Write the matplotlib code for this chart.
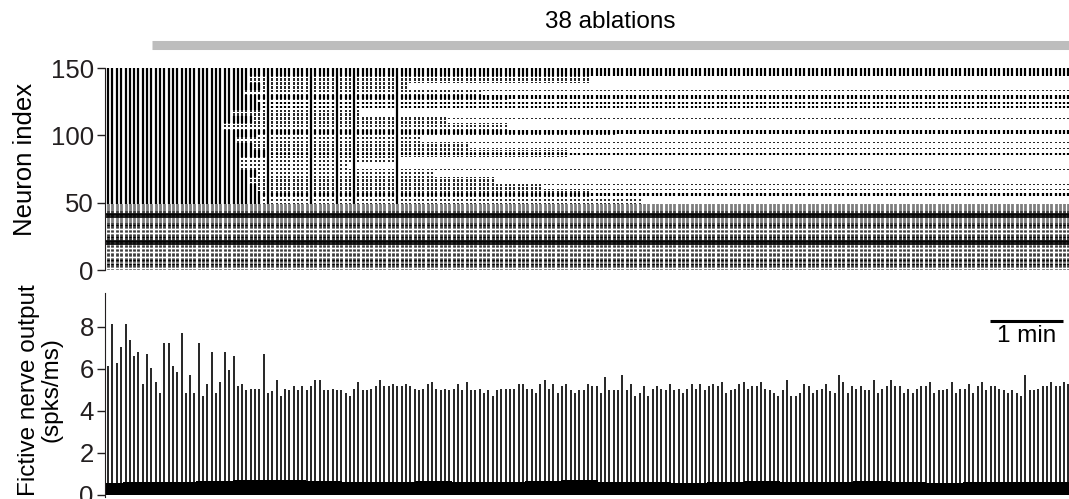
import numpy as np
import matplotlib.pyplot as plt
from matplotlib.collections import LineCollection

plt.rcParams['font.family'] = ['Liberation Sans', 'DejaVu Sans']
plt.rcParams['font.size'] = 18.5

# Zeitpunkte der Bursts (s)
burst_t = [
    2.2, 6.0, 9.6, 13.2, 17.0, 20.3, 23.8, 27.4, 31.0, 34.5, 38.1, 41.6, 45.2, 48.8, 52.3,
    55.9, 59.5, 63.0, 66.6, 70.1, 73.4, 77.0, 80.6, 84.1, 87.7, 91.2, 94.8, 98.4, 101.9,
    105.8, 109.1, 112.3, 115.9, 119.7, 123.3, 126.9, 130.4, 134.0, 137.5, 141.1, 144.4,
    148.0, 151.5, 155.1, 158.6, 162.2, 165.8, 169.3, 172.9, 176.5, 180.0, 183.6, 187.1,
    190.7, 194.3,
    197.8, 201.1, 204.7, 208.3, 211.8, 215.4, 218.9, 222.5, 226.1, 229.6, 233.2, 236.8,
    240.3, 243.9, 247.4, 251.0, 254.6, 258.1, 261.7, 265.3, 268.8, 272.4, 275.9, 279.5,
    283.1, 286.6, 290.2, 293.7, 297.3, 300.9, 304.4, 308.0, 311.6, 315.1, 318.7, 322.2,
    325.8, 329.4, 332.9, 336.5, 340.1, 343.6, 347.2, 350.7, 354.3, 357.9, 361.4, 365.0,
    368.5, 372.1, 375.7, 379.2, 382.8, 386.4, 389.9, 393.5,
    396.7, 400.3, 404.1, 407.4, 411.2, 414.5, 418.1, 421.6, 425.2, 428.8, 432.3, 435.9,
    439.4, 443.0, 446.6, 450.1, 453.7, 457.2, 460.8, 464.4, 467.9, 471.5, 475.1, 478.6,
    482.2, 485.7, 489.3, 492.9, 496.4, 500.0, 503.6, 507.1, 510.7, 514.2, 517.8, 521.4,
    524.9, 528.5, 532.0, 535.6, 539.2, 542.7, 546.3, 549.9, 553.4, 557.0, 560.5, 564.1,
    567.7, 571.2, 574.8, 578.4, 581.9, 585.5, 589.0,
    592.6, 596.2, 599.7, 603.3, 606.9, 610.4, 614.0, 617.6, 621.1, 624.7, 628.2, 631.8,
    635.4, 638.9, 642.5, 646.1, 649.6, 653.2, 656.7, 660.3, 663.9, 667.4, 671.0, 674.5,
    678.1, 681.7, 685.2, 688.8, 692.4, 695.9, 699.5, 703.0, 706.6, 710.2, 713.7, 717.3,
    720.8, 724.4, 728.0, 731.5, 735.1, 738.7, 742.2, 745.8, 749.3, 752.9, 756.5, 760.0,
    763.6, 767.1, 770.7, 774.3, 777.8, 781.4, 785.0, 788.5, 791.8,
]

# Spitzenwert je Burst (spks/ms)
peak = [
    6.14, 8.14, 6.27, 7.03, 8.14, 7.35, 6.59, 6.81, 5.29, 6.71, 6.05, 5.38, 4.84, 7.25, 7.25,
    6.14, 5.83, 7.70, 4.84, 5.70, 4.84, 7.25, 4.71, 5.29, 6.81, 4.84, 5.38, 6.81, 5.95,
    6.59, 5.16, 5.29, 4.97, 5.05, 5.05, 5.05, 6.71, 4.84, 4.94, 5.48, 4.71, 5.05, 4.97,
    5.16, 4.97, 5.16, 4.97, 5.16, 5.48, 5.48, 4.97, 4.97, 5.05, 4.97, 4.97,
    4.84, 4.71, 5.05, 5.38, 4.97, 4.97, 5.05, 5.16, 5.48, 5.16, 5.16, 5.29, 5.16, 5.16,
    5.29, 5.16, 5.05, 4.97, 5.05, 5.29, 5.38, 5.05, 4.97, 5.05, 4.97, 5.05, 5.29, 4.97,
    5.38, 4.97, 4.97, 5.05, 4.84, 4.97, 4.71, 4.97, 5.05, 5.05, 5.05, 5.05, 5.29, 5.29,
    5.05, 5.05, 4.84, 5.29, 5.48, 5.05, 5.29, 4.84, 5.16, 5.29, 4.97, 4.84, 4.97, 4.97,
    5.29, 5.16, 5.16, 4.84, 5.60, 4.97, 4.97, 4.97, 5.70, 4.97, 5.29, 4.71, 4.84, 5.16,
    4.71, 5.05, 5.16, 5.05, 4.97, 5.29, 4.97, 5.05, 4.84, 5.05, 5.29, 5.05, 5.29, 4.97,
    5.16, 5.29, 5.16, 5.38, 4.84, 4.97, 5.05, 5.29, 5.38, 5.05, 5.16, 5.16, 5.38, 5.05,
    4.97, 4.84, 4.71, 4.97, 5.48, 4.71, 4.71, 4.84, 5.29, 5.16, 4.84, 4.97, 5.05,
    5.29, 4.92, 4.84, 5.70, 5.38, 4.84, 5.16, 5.05, 5.16, 4.97, 4.97, 5.48, 4.84, 5.05,
    5.16, 5.48, 5.16, 5.16, 4.84, 5.05, 4.84, 5.05, 5.16, 5.16, 5.38, 4.84, 4.97, 4.97,
    5.05, 5.38, 4.84, 5.05, 5.05, 5.29, 4.84, 5.16, 5.38, 4.97, 5.16, 5.16, 5.05, 4.97,
    4.84, 4.97, 4.84, 4.71, 5.70, 4.97, 4.97, 5.05, 5.16, 5.16, 5.38, 5.16, 5.16, 5.38,
    5.29,
]

# Grundrauschen des Nervensignals, alle 30 s (spks/ms)
noise_t = [0, 30, 60, 90, 120, 150, 180, 210, 240, 270, 300, 330, 360, 390, 420, 450,
           480, 510, 540, 570, 600, 630, 660, 690, 720, 750, 780, 795]
noise_level = [0.55, 0.6, 0.62, 0.65, 0.7, 0.72, 0.65, 0.62, 0.6, 0.68, 0.62, 0.6, 0.65,
               0.7, 0.62, 0.6, 0.58, 0.62, 0.66, 0.6, 0.62, 0.65, 0.6, 0.58, 0.62, 0.6,
               0.62, 0.62]

# Kern-Neurone (0-48): feuern in jedem Burst
n_core = 49
core_silent = [1, 5, 9, 13, 16, 27, 30, 37, 46]
tonic_rows = [19, 20, 21, 39, 40, 41]

# obere Neurone in Bändern: voll aktiv bis full_until, schwach bis weak_until (s)
band_lo = [49, 54, 59, 64, 69, 74, 79, 84, 89, 94, 99, 104, 109, 114, 119, 124, 129, 134, 139, 144]
band_hi = [53, 58, 63, 68, 73, 78, 83, 88, 93, 98, 103, 108, 113, 118, 123, 128, 133, 138, 143, 149]
full_until = [130, 128, 124, 118, 125, 110, 112, 132, 122, 108, 126, 96, 120, 104, 130, 124, 115, 128, 118, 133]
weak_until = [440, 400, 360, 320, 270, 200, 240, 380, 300, 260, 420, 330, 280, 210, 360, 330, 310, 250, 400, 470]

# Neurone, die bis zum Ende aktiv bleiben
late_strong = [55, 56, 85, 86, 101, 102, 103, 120, 121, 123, 124, 127, 128, 129,
               144, 145, 146, 147, 148, 149]
late_weak = [59, 63, 70, 74, 90, 94, 112, 133]

# Bursts, in denen fast alle oberen Neurone mitfeuern
recruit_t = [134.0, 169.3, 190.7, 204.7, 240.3]

t_end = 792.3
bt = np.array(burst_t)

fig = plt.figure(figsize=(10.69, 4.99), dpi=100)
ax1 = fig.add_axes([0.0982, 0.4589, 0.9018, 0.4048])
ax2 = fig.add_axes([0.0982, 0.0042, 0.9018, 0.4082])

# --- Raster ---
core_segs, full_segs, weak_segs = [], [], []
for r in range(n_core):
    if r in core_silent:
        continue
    for t in bt:
        core_segs.append([(t, r + 0.05), (t, r + 0.9)])

for lo, hi, fu, wu in zip(band_lo, band_hi, full_until, weak_until):
    for r in range(lo, hi + 1):
        for t in bt:
            if t < fu or np.min(np.abs(np.array(recruit_t) - t)) < 0.5:
                full_segs.append([(t, r), (t, r + 1.0)])
            elif r in late_strong:
                full_segs.append([(t, r + 0.05), (t, r + 0.95)])
            elif t < wu or r in late_weak:
                weak_segs.append([(t, r + 0.2), (t, r + 0.8)])

ax1.add_collection(LineCollection(core_segs, colors='black', linewidths=2.0))
ax1.add_collection(LineCollection(full_segs, colors='black', linewidths=1.6))
ax1.add_collection(LineCollection(weak_segs, colors='black', linewidths=1.2))
ax1.hlines([r + 0.5 for r in tonic_rows], 1.0, t_end, colors='black', linewidth=1.2)

ax1.set_xlim(0, t_end)
ax1.set_ylim(0, 150)
ax1.set_yticks([0, 50, 100, 150])
ax1.set_xticks([])
for s in ['top', 'right', 'bottom']:
    ax1.spines[s].set_visible(False)
ax1.set_ylabel('Neuron index')
ax1.yaxis.set_label_coords(-0.071, 0.545)

# Ablationsbalken
ax1.hlines(167.4, 38.6, t_end, colors='#bdbdbd', linewidth=6.5, clip_on=False)
ax1.text(415, 184, '38 ablations', ha='center', va='center', fontsize=17.5, clip_on=False)

# --- Nervensignal ---
ax2.fill_between(noise_t, 0, noise_level, step='mid', color='black', linewidth=0)
ax2.vlines(bt, 0, peak, colors='black', linewidth=1.2)

ax2.set_xlim(0, t_end)
ax2.set_ylim(-0.1, 9.6)
ax2.set_yticks([0, 2, 4, 6, 8])
ax2.set_xticks([])
for s in ['top', 'right', 'bottom']:
    ax2.spines[s].set_visible(False)
ax2.set_ylabel('Fictive nerve output\n(spks/ms)', fontsize=17.5, linespacing=1.05)
ax2.yaxis.set_label_coords(-0.044, 0.525)

# Maßstab 1 min
ax2.hlines(8.29, 727.4, 787.4, colors='black', linewidth=2.2)
ax2.text(757.4, 7.55, '1 min', ha='center', va='center', fontsize=17.5)

for ax in (ax1, ax2):
    ax.tick_params(axis='y', direction='out', length=6, width=1, colors='#231f20', pad=2)
    ax.spines['left'].set_color('#231f20')

fig.savefig('out.png', dpi=100)
